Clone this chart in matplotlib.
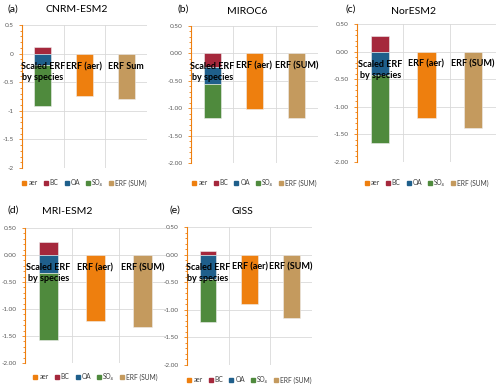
import numpy as np
import matplotlib
matplotlib.use("Agg")
import matplotlib.pyplot as plt
from matplotlib.patches import Patch
from matplotlib.ticker import MultipleLocator

plt.rcParams['font.family'] = ['Lato', 'DejaVu Sans']

# data
models = ["CNRM-ESM2", "MIROC6", "NorESM2", "MRI-ESM2", "GISS"]
letters = ["(a)", "(b)", "(c)", "(d)", "(e)"]
bc = [0.12, -0.24, 0.29, 0.24, 0.07]
oa = [-0.20, -0.32, -0.42, -0.34, -0.45]
so4 = [-0.72, -0.61, -1.23, -1.23, -0.77]
erf_aer = [-0.74, -1.01, -1.20, -1.22, -0.90]
erf_sum = [-0.80, -1.17, -1.38, -1.33, -1.15]
cat_a = ["Scaled ERF\nby species", "ERF (aer)", "ERF Sum"]
cat_other = ["Scaled ERF\nby species", "ERF (aer)", "ERF (SUM)"]
yticks = [0.5, 0, -0.5, -1, -1.5, -2]
ylab_a = ["0.5", "0", "-0.5", "-1", "-1.5", "-2"]
ylab_other = ["0.50", "0.00", "-0.50", "-1.00", "-1.50", "-2.00"]
leg_labels = ["aer", "BC", "OA", "SO₄", "ERF (SUM)"]

c_aer = "#EE7F0E"
c_bc = "#A5283C"
c_oa = "#1F5F8B"
c_so4 = "#4F8A3D"
c_sum = "#C49A5E"

W, H = 500, 388
# axes boxes in pixels: left, right, top, bottom
boxes = [(22, 147, 25, 168), (191, 318, 26, 163), (357, 496, 24, 162),
         (25, 166, 228, 363), (187, 312, 227, 365)]
title_pos = [(77, 9), (247, 11), (413, 11), (67, 212), (242, 212)]
letter_pos = [(7, 9), (178, 9), (345, 9), (7, 210), (170, 210)]
legend_y = [183, 183, 183, 377, 380]

fig = plt.figure(figsize=(5, 3.88), dpi=100)

for k in range(5):
    l, r, t, b = boxes[k]
    ax = fig.add_axes([l / W, 1 - b / H, (r - l) / W, (b - t) / H])
    x = np.arange(3)
    w = 0.4
    # stacked species bar, positive and negative stacked separately
    pos, neg = 0.0, 0.0
    for v, c in [(bc[k], c_bc), (oa[k], c_oa), (so4[k], c_so4)]:
        if v >= 0:
            ax.bar(x[0], v, w, bottom=pos, color=c, edgecolor="#EEEEEE", linewidth=0.4, zorder=2)
            pos += v
        else:
            ax.bar(x[0], v, w, bottom=neg, color=c, edgecolor="#EEEEEE", linewidth=0.4, zorder=2)
            neg += v
    ax.bar(x[1], erf_aer[k], w, color=c_aer, edgecolor="#EEEEEE", linewidth=0.4, zorder=2)
    ax.bar(x[2], erf_sum[k], w, color=c_sum, edgecolor="#EEEEEE", linewidth=0.4, zorder=2)

    ax.set_xlim(-0.5, 2.5)
    ax.set_ylim(-2, 0.5)
    ax.set_xticks([])
    ax.set_yticks(yticks)
    ax.set_yticklabels(ylab_a if k == 0 else ylab_other)
    ax.yaxis.set_minor_locator(MultipleLocator(0.1))
    ax.tick_params(axis="y", which="both", colors=c_aer, labelcolor="#595959",
                   labelsize=4.6, length=2, width=0.6, pad=4)
    ax.tick_params(axis="y", which="minor", length=1.5)
    for s in ["top", "right", "bottom"]:
        ax.spines[s].set_visible(False)
    ax.spines["left"].set_color(c_aer)
    ax.spines["left"].set_linewidth(0.8)
    for yv in yticks:
        ax.axhline(yv, color="#D9D9D9", linewidth=0.6, zorder=0)
    for xv in [0.5, 1.5, 2.5]:
        ax.axvline(xv, color="#D9D9D9", linewidth=0.6, zorder=0)

    cats = cat_a if k == 0 else cat_other
    for i, lab in enumerate(cats):
        ax.text(i, -0.15, lab, ha="center", va="top", fontsize=6.5,
                fontweight="bold", color="black", zorder=5, linespacing=1.3)

    tx, ty = title_pos[k]
    fig.text(tx / W, 1 - ty / H, models[k], ha="center", va="center", fontsize=7.5)
    lx, ly = letter_pos[k]
    fig.text(lx / W, 1 - ly / H, letters[k], ha="left", va="center", fontsize=7.5)

    handles = [Patch(color=c) for c in [c_aer, c_bc, c_oa, c_so4, c_sum]]
    cx = (l + r) / 2 / W
    fig.legend(handles, leg_labels, ncol=5, loc="center",
               bbox_to_anchor=(cx, 1 - legend_y[k] / H), frameon=False,
               fontsize=4.8, handlelength=0.6, handleheight=0.6,
               handletextpad=0.3, columnspacing=0.9, labelcolor="#404040")

fig.savefig("out.png", dpi=100)
